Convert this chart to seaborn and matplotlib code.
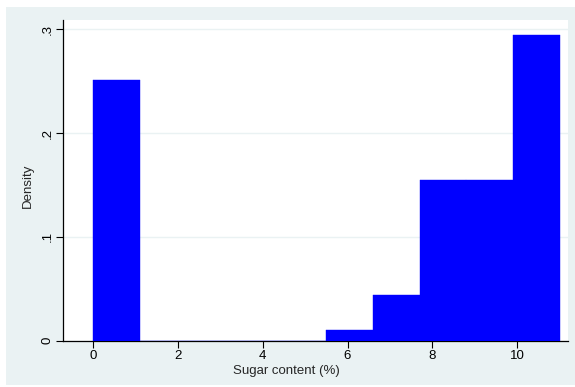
import matplotlib
matplotlib.use("Agg")
import matplotlib.pyplot as plt
from matplotlib.patches import Rectangle
import seaborn as sns
import pandas as pd

# histogram bins (sugar content, %) and counts per bin
bin_edges = [0.0, 1.1, 2.2, 3.3, 4.4, 5.5, 6.6, 7.7, 8.8, 9.9, 11.0]
bin_mids = [0.55, 1.65, 2.75, 3.85, 4.95, 6.05, 7.15, 8.25, 9.35, 10.45]
bin_counts = [52, 0, 0, 0, 0, 2, 9, 32, 32, 61]
x_ticks = [0, 2, 4, 6, 8, 10]
y_ticks = [0, 0.1, 0.2, 0.3]
y_labels = ["0", ".1", ".2", ".3"]

df = pd.DataFrame({"sugar": bin_mids, "n": bin_counts})

sns.set_style("white")
plt.rcParams["font.family"] = ["Liberation Sans", "DejaVu Sans"]

fig = plt.figure(figsize=(5.75, 3.87), dpi=100, facecolor="white")
# stata-like outer panel
fig.patches.append(Rectangle((6 / 575, 1 - 385 / 387), 569 / 575, 378 / 387,
                             transform=fig.transFigure, facecolor="#eaf2f3",
                             edgecolor="none", zorder=-10))
ax = fig.add_axes([63 / 575, 1 - 340.5 / 387, 505 / 575, 320.5 / 387])
ax.set_facecolor("white")

sns.histplot(data=df, x="sugar", weights="n", bins=bin_edges, stat="density",
             color="#0000ff", alpha=1, edgecolor="#0000ff", linewidth=0.3,
             ax=ax, zorder=3)

ax.set_xlim(-0.71, 11.2)
ax.set_ylim(0, 0.309)
ax.set_xticks(x_ticks)
ax.set_yticks(y_ticks)
ax.set_yticklabels(y_labels, rotation=90, va="center")
ax.grid(axis="y", color="#eaf2f3", linewidth=1, zorder=0)
ax.set_axisbelow(True)
for side in ["top", "right"]:
    ax.spines[side].set_visible(False)
for side in ["left", "bottom"]:
    ax.spines[side].set_color("black")
    ax.spines[side].set_linewidth(0.9)
ax.tick_params(axis="both", direction="out", length=5, width=0.8,
               colors="black", labelsize=9.5, pad=2, left=True, bottom=True)
ax.set_xlabel("Sugar content (%)", fontsize=9.5)
ax.set_ylabel("Density", fontsize=9.5)
ax.xaxis.set_label_coords(0.4426, -0.076)
ax.yaxis.set_label_coords(-0.0574, 0.482)

fig.savefig("out.png", dpi=100, facecolor=fig.get_facecolor())
